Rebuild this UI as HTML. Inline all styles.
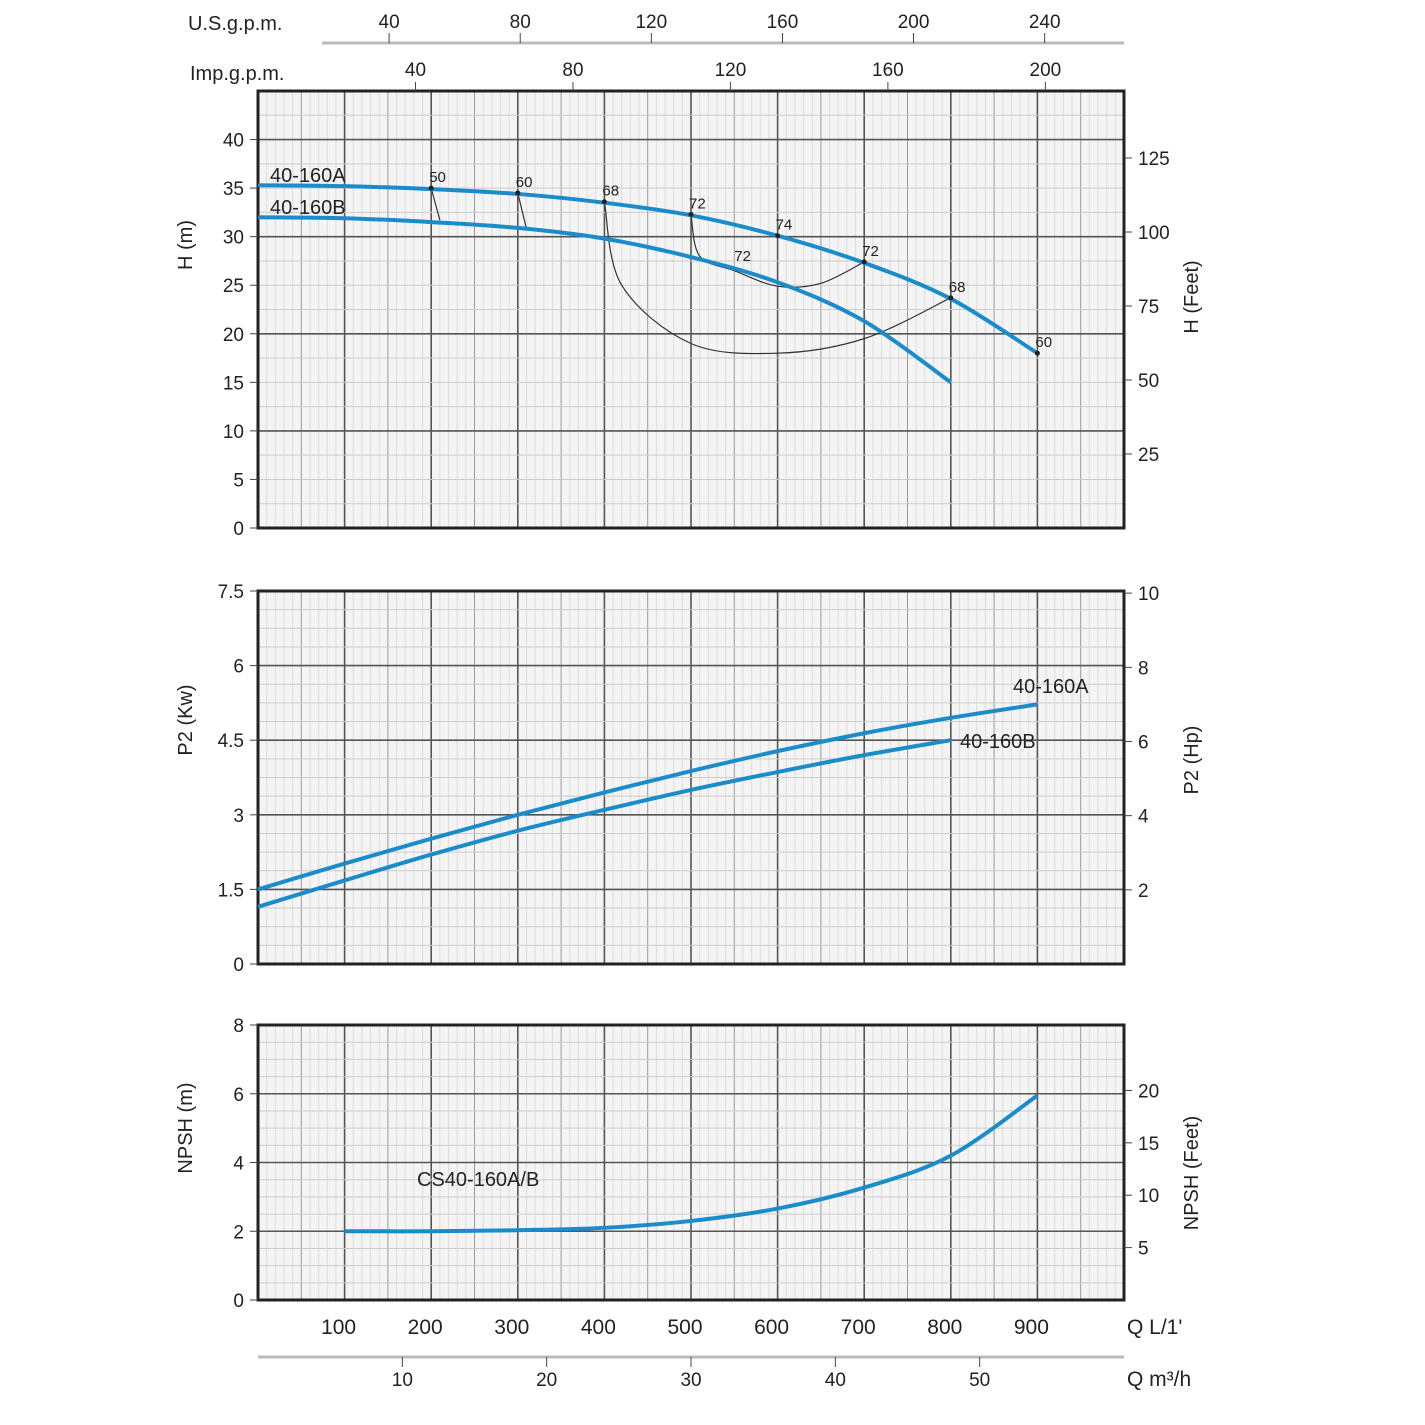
<!DOCTYPE html>
<html><head><meta charset="utf-8"><style>
body{margin:0;background:#fff}
svg{display:block;font-family:"Liberation Sans",sans-serif}
</style></head><body>
<svg id="c" width="1425" height="1425"></svg>
<script>
const qVals=[0,100,200,300,400,500,600,700,800,900];
const hA=[35.3,35.2,34.9,34.4,33.5,32.2,30.1,27.3,23.6,18.0];
const qB=[0,100,200,300,400,500,600,700,800];
const hB=[32.0,31.9,31.5,30.9,29.8,27.9,25.3,21.3,15.0];
const pA=[1.5,2.02,2.52,3.0,3.45,3.88,4.28,4.64,4.95,5.22];
const pB=[1.15,1.68,2.2,2.68,3.1,3.5,3.86,4.2,4.5];
const qN=[100,200,300,400,500,600,700,800,900];
const npsh=[2.0,2.0,2.03,2.1,2.3,2.66,3.27,4.2,5.95];
const effLabels=["50","60","68","72","74","72","68","60"];
const effQ=[200,300,400,500,600,700,800,900];
const effH=[35.0,34.5,33.6,32.3,30.1,27.4,23.7,18.0];
const iso50Q=[200,210]; const iso50H=[35.0,31.7];
const iso60Q=[300,310]; const iso60H=[34.5,30.8];
const iso68Q=[400,420,500,600,700,800]; const iso68H=[33.6,25,19,18,19.5,23.7];
const iso72Q=[500,510,550,600,650,700]; const iso72H=[32.3,28,26.5,24.9,25.2,27.4];
const usTicks=[40,80,120,160,200,240];
const impTicks=[40,80,120,160,200];
const m3Ticks=[10,20,30,40,50];
const hTicks=[0,5,10,15,20,25,30,35,40];
const ftTicks=[25,50,75,100,125];
const pTicks=[0,1.5,3,4.5,6,7.5];
const hpTicks=[2,4,6,8,10];
const nTicks=[0,2,4,6,8];
const nftTicks=[5,10,15,20];
const qTicks=[100,200,300,400,500,600,700,800,900];

const S=document.getElementById('c');const NS='http://www.w3.org/2000/svg';
function el(t,a,name,txt){const e=document.createElementNS(NS,t);for(const k in a)e.setAttribute(k,a[k]);


if(txt!==undefined)e.textContent=txt;S.appendChild(e);return e;}
const X0=258,X1=1124;const xq=q=>X0+(q/1000)*(X1-X0);
const panels=[{t:91,b:528,max:45},{t:591,b:964,max:7.5},{t:1025,b:1300,max:8}];
function yf(p,v){return p.b-(v/p.max)*(p.b-p.t);}
function grid(p,name,minorStep,majStep){
  el('rect',{x:X0,y:p.t,width:X1-X0,height:p.b-p.t,fill:'#f4f4f4'},name+'-bg');
  for(let q=10;q<1000;q+=10){const maj=q%100===0,mid=q%50===0;
    el('line',{x1:xq(q),x2:xq(q),y1:p.t,y2:p.b,stroke:maj?'#555':mid?'#999':'#ddd','stroke-width':maj?1.6:1},name+'-vgrid');}
  for(let v=minorStep;v<p.max-1e-6;v+=minorStep){const maj=Math.abs(v/majStep-Math.round(v/majStep))<1e-6;
    el('line',{x1:X0,x2:X1,y1:yf(p,v),y2:yf(p,v),stroke:maj?'#555':'#ccc','stroke-width':maj?1.6:1},name+'-hgrid');}
  el('rect',{x:X0,y:p.t,width:X1-X0,height:p.b-p.t,fill:'none',stroke:'#222','stroke-width':3},name+'-frame');
}
grid(panels[0],'head-panel',2.5,10);
grid(panels[1],'power-panel',0.375,1.5);
grid(panels[2],'npsh-panel',0.5,2);
function smooth(xs,ys,p,name,col,w){const pts=xs.map((q,i)=>[xq(q),yf(p,ys[i])]);let d='M'+pts[0];
  for(let i=0;i<pts.length-1;i++){const p0=pts[i-1]||pts[i],p1=pts[i],p2=pts[i+1],p3=pts[i+2]||p2;
   d+=' C'+(p1[0]+(p2[0]-p0[0])/6)+','+(p1[1]+(p2[1]-p0[1])/6)+' '+(p2[0]-(p3[0]-p1[0])/6)+','+(p2[1]-(p3[1]-p1[1])/6)+' '+p2;}
  return el('path',{d:d,fill:'none',stroke:col,'stroke-width':w},name);}
const P=panels;
smooth(iso50Q,iso50H,P[0],'iso-eff-50','#333',1.2);
smooth(iso60Q,iso60H,P[0],'iso-eff-60','#333',1.2);
smooth(iso68Q,iso68H,P[0],'iso-eff-68','#333',1.2);
smooth(iso72Q,iso72H,P[0],'iso-eff-72','#333',1.2);
smooth(qVals,hA,P[0],'head-curve-a','#1a8ccc',4);
smooth(qB,hB,P[0],'head-curve-b','#1a8ccc',4);
effQ.forEach((q,i)=>{el('circle',{cx:xq(q),cy:yf(P[0],effH[i]),r:2.5,fill:'#222'},'eff-point');
 el('text',{x:xq(q)-2,y:yf(P[0],effH[i])-6,'font-size':15,fill:'#222'},'eff-label',effLabels[i]);});
el('text',{x:xq(550),y:yf(P[0],27.5),'font-size':15,fill:'#222'},'eff-label','72');
el('text',{x:270,y:182,'font-size':20,fill:'#222'},'label-40-160a','40-160A');
el('text',{x:270,y:214,'font-size':20,fill:'#222'},'label-40-160b','40-160B');
smooth(qVals,pA,P[1],'power-curve-a','#1a8ccc',4);
smooth(qB,pB,P[1],'power-curve-b','#1a8ccc',4);
el('text',{x:1013,y:693,'font-size':20,fill:'#222'},'power-label-a','40-160A');
el('text',{x:960,y:748,'font-size':20,fill:'#222'},'power-label-b','40-160B');
smooth(qN,npsh,P[2],'npsh-curve','#1a8ccc',4);
el('text',{x:417,y:1186,'font-size':20,fill:'#222'},'npsh-label','CS40-160A/B');
function yaxis(p,ticks,name,right,conv){ticks.forEach(v=>{const y=yf(p,conv?conv(v):v);
 if(right){el('line',{x1:X1,x2:X1+8,y1:y,y2:y,stroke:'#444'},name+'-tick');
  el('text',{x:X1+14,y:y+7,'font-size':19,fill:'#222'},name+'-label',String(v));}
 else{el('line',{x1:X0-8,x2:X0,y1:y,y2:y,stroke:'#444'},name+'-tick');
  el('text',{x:X0-14,y:y+7,'font-size':19,fill:'#222','text-anchor':'end'},name+'-label',String(v));}});}
yaxis(P[0],hTicks,'h-axis',false);
yaxis(P[0],ftTicks,'hft-axis',true,v=>v/3.281);
yaxis(P[1],pTicks,'p2-axis',false);
yaxis(P[1],hpTicks,'hp-axis',true,v=>v*0.7457);
yaxis(P[2],nTicks,'npsh-axis',false);
yaxis(P[2],nftTicks,'nft-axis',true,v=>v/3.281);
function vt(x,y,txt,name){el('text',{x:x,y:y,'font-size':20,fill:'#222','text-anchor':'middle',transform:'rotate(-90 '+x+' '+y+')'},name,txt);}
vt(192,245,'H (m)','h-axis-title');vt(1198,297,'H (Feet)','hft-axis-title');
vt(192,720,'P2 (Kw)','p2-axis-title');vt(1198,760,'P2 (Hp)','hp-axis-title');
vt(192,1128,'NPSH (m)','npsh-axis-title');vt(1198,1173,'NPSH (Feet)','nft-axis-title');
el('line',{x1:322,x2:1124,y1:43,y2:43,stroke:'#bbb','stroke-width':3},'usgpm-axis-line');
el('text',{x:188,y:30,'font-size':20,fill:'#222'},'usgpm-title','U.S.g.p.m.');
usTicks.forEach(v=>{const x=xq(v*3.785);el('line',{x1:x,x2:x,y1:33,y2:43,stroke:'#444'},'usgpm-tick');
 el('text',{x:x,y:28,'font-size':19,fill:'#222','text-anchor':'middle'},'usgpm-label',String(v));});
el('text',{x:190,y:80,'font-size':20,fill:'#222'},'impgpm-title','Imp.g.p.m.');
impTicks.forEach(v=>{const x=xq(v*4.546);el('line',{x1:x,x2:x,y1:82,y2:91,stroke:'#444'},'impgpm-tick');
 el('text',{x:x,y:76,'font-size':19,fill:'#222','text-anchor':'middle'},'impgpm-label',String(v));});
qTicks.forEach(v=>{el('text',{x:xq(v)-6,y:1334,'font-size':21,fill:'#222','text-anchor':'middle'},'q-label',String(v));});
el('text',{x:1127,y:1334,'font-size':21,fill:'#222'},'q-unit',"Q  L/1'");
el('line',{x1:258,x2:1124,y1:1357,y2:1357,stroke:'#bbb','stroke-width':3},'m3h-axis-line');
m3Ticks.forEach(v=>{const x=xq(v*16.667);el('line',{x1:x,x2:x,y1:1357,y2:1367,stroke:'#444'},'m3h-tick');
 el('text',{x:x,y:1386,'font-size':19,fill:'#222','text-anchor':'middle'},'m3h-label',String(v));});
el('text',{x:1127,y:1386,'font-size':21,fill:'#222'},'m3h-unit','Q  m³/h');
</script></body></html>
